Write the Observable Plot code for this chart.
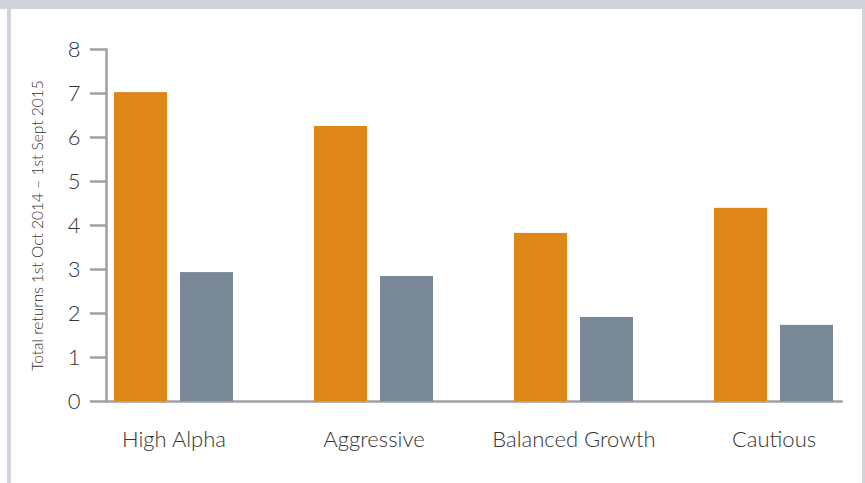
<!DOCTYPE html>
<html><head><meta charset="utf-8">
<script src="https://cdn.jsdelivr.net/npm/d3@7"></script>
<script src="https://cdn.jsdelivr.net/npm/@observablehq/plot@0.6"></script>
<style>
body{margin:0;background:#fff;}
#wrap{position:relative;width:865px;height:483px;overflow:hidden;background:#fff;}
.band{position:absolute;background:#d0d3da;}
#chart svg{display:block;}
</style></head><body>
<div id="wrap">
<div id="chart"></div>
<div class="band" style="left:0;top:0;width:865px;height:9px"></div>
<div class="band" style="left:7px;top:9px;width:4px;height:474px"></div>
<div class="band" style="left:862px;top:9px;width:3px;height:474px"></div>
</div>
<script>
const categories = ["High Alpha", "Aggressive", "Balanced Growth", "Cautious"];
const series = ["Fund", "Sector average"];
const fundValues = [7.02, 6.25, 3.82, 4.39];
const sectorValues = [2.93, 2.84, 1.91, 1.73];
const yTicks = [0, 1, 2, 3, 4, 5, 6, 7, 8];
const yLabel = "Total returns 1st Oct 2014 – 1st Sept 2015";
const colors = ["#DF8618", "#798897"];

const data = categories.flatMap((c, i) => [
  {category: c, series: series[0], value: fundValues[i]},
  {category: c, series: series[1], value: sectorValues[i]}
]);

const chart = Plot.plot({
  width: 865,
  height: 483,
  marginTop: 49,
  marginBottom: 82,
  marginLeft: 106,
  marginRight: 24,
  style: {fontFamily: "Lato, 'Open Sans', sans-serif", fontWeight: 300, color: "#333", background: "white"},
  fx: {domain: categories, paddingInner: 0.325, paddingOuter: 0, label: null},
  x: {domain: series, paddingInner: 0.194, paddingOuter: 0.1045, axis: null},
  y: {domain: [0, 8], label: null},
  color: {domain: series, range: colors},
  marks: [
    Plot.frame({anchor: "bottom", stroke: "#a0a0a0", strokeWidth: 2.5, facet: "super"}),
    Plot.barY(data, {fx: "category", x: "series", y: "value", fill: "series"}),
    Plot.frame({anchor: "left", stroke: "#a0a0a0", strokeWidth: 2.5, facet: "super"}),
    Plot.axisY({ticks: yTicks, tickSize: 16, tickPadding: 10, fontSize: 22, stroke: "#a0a0a0", strokeWidth: 2.5, strokeOpacity: 1, label: null, tickFormat: d => d}),
    Plot.axisFx({anchor: "bottom", tickSize: 0, tickPadding: 30, fontSize: 22, label: null}),
    Plot.text([yLabel], {frameAnchor: "left", rotate: -90, dx: -68, fontSize: 15.5, lineAnchor: "middle", textAnchor: "middle", facet: "super"})
  ]
});
document.getElementById("chart").appendChild(chart);
</script>
</body></html>
